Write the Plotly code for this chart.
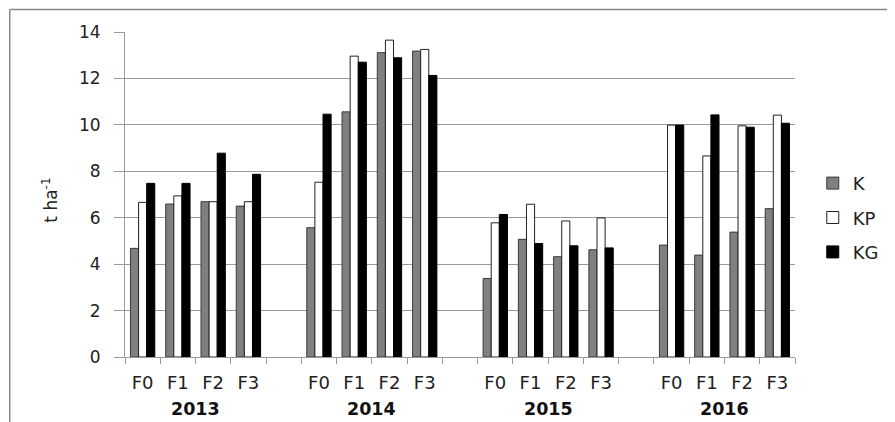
import plotly.graph_objects as go

years = ["2013", "2014", "2015", "2016"]
treatments = ["F0", "F1", "F2", "F3"]

K = [4.68, 6.59, 6.69, 6.50,
     5.57, 10.56, 13.11, 13.18,
     3.38, 5.07, 4.32, 4.62,
     4.82, 4.39, 5.38, 6.39]
KP = [6.66, 6.94, 6.69, 6.69,
      7.53, 12.96, 13.65, 13.25,
      5.78, 6.58, 5.86, 5.99,
      9.99, 8.66, 9.96, 10.42]
KG = [7.48, 7.48, 8.78, 7.87,
      10.46, 12.70, 12.89, 12.13,
      6.14, 4.89, 4.79, 4.70,
      9.99, 10.43, 9.90, 10.07]

y_ticks = [0, 2, 4, 6, 8, 10, 12, 14]

# categories: year|treatment, with an empty slot between years
cats = []
labels = []
data_cats = []
for i, yr in enumerate(years):
    for t in treatments:
        c = f"{yr} {t}"
        cats.append(c)
        labels.append(t)
        data_cats.append(c)
    if i < len(years) - 1:
        gap = " " * (i + 1)
        cats.append(gap)
        labels.append(" ")

font = "DejaVu Sans, sans-serif"
txt = "#222222"

fig = go.Figure()
series = [("K", K, "#808080", "#3a3a3a"),
          ("KP", KP, "#ffffff", "#222222"),
          ("KG", KG, "#000000", "#000000")]
for name, vals, fill, edge in series:
    fig.add_trace(go.Bar(
        x=data_cats, y=vals, name=name, legendgroup=name,
        marker=dict(color=fill, line=dict(color=edge, width=1)),
    ))

# page body has an 8px offset, so the figure is sized to fill the rest
fig.update_layout(
    width=887, height=414,
    margin=dict(l=117, r=99, t=24, b=65),
    paper_bgcolor="white", plot_bgcolor="white",
    barmode="group", bargap=0.31, bargroupgap=0,
    font=dict(family=font, size=17, color=txt),
    legend=dict(x=1.025, y=0.428, xanchor="left", yanchor="middle",
                tracegroupgap=8, font=dict(size=18, color=txt),
                itemwidth=30),
    showlegend=True,
)
fig.update_xaxes(
    type="category", categoryorder="array", categoryarray=cats,
    tickvals=cats, ticktext=labels, tickson="boundaries",
    ticks="outside", ticklen=6, tickcolor="#999999",
    ticklabelstandoff=9,
    showline=True, linecolor="#999999", linewidth=1,
    showgrid=False, range=[-0.5, len(cats) - 0.5],
    tickfont=dict(size=18, color=txt),
)
fig.update_yaxes(
    range=[0, 14], tickvals=y_ticks,
    ticks="outside", ticklen=10, tickcolor="#999999",
    ticklabelstandoff=10,
    showline=True, linecolor="#999999", linewidth=1,
    showgrid=True, gridcolor="#9a9a9a", gridwidth=1,
    zeroline=False, tickfont=dict(size=17, color=txt),
)

# year labels
for i, yr in enumerate(years):
    fig.add_annotation(x=i * 5 + 1.5, y=-0.160, xref="x", yref="paper",
                       text=f"<b>{yr}</b>", showarrow=False,
                       font=dict(size=17.5, color="#111111"),
                       xanchor="center", yanchor="middle")

# y-axis title
fig.add_annotation(x=-0.112, y=0.484, xref="paper", yref="paper",
                   text="t ha<sup>-1</sup>", textangle=-90, showarrow=False,
                   font=dict(size=17, color=txt),
                   xanchor="center", yanchor="middle")

# outer frame (top and left edges)
fig.add_shape(type="line", xref="paper", yref="paper",
              x0=-0.172, x1=1.2, y0=1.069, y1=1.069,
              line=dict(color="#888888", width=1.5))
fig.add_shape(type="line", xref="paper", yref="paper",
              x0=-0.172, x1=-0.172, y0=1.069, y1=-0.3,
              line=dict(color="#888888", width=1.5))

fig.write_html("out.html")
